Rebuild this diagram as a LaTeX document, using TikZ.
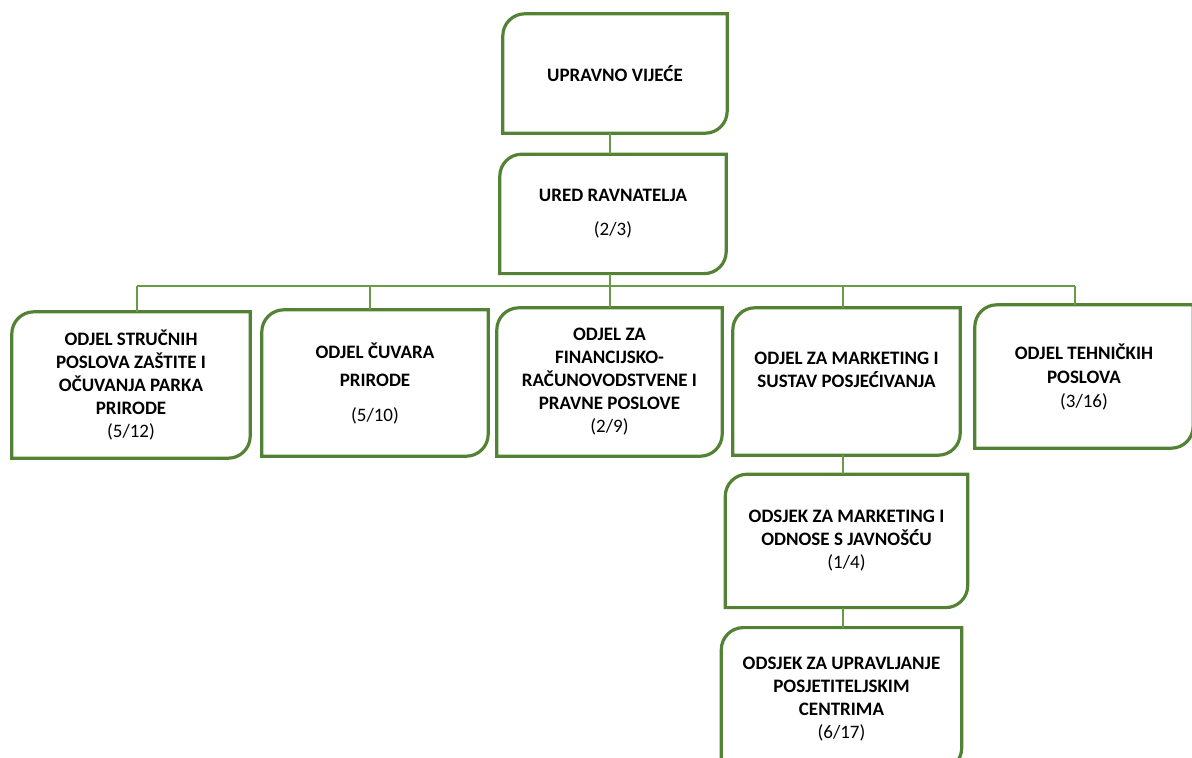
\documentclass[tikz,border=0pt]{standalone}
\usepackage{fontspec}
\setmainfont{Carlito}
\usetikzlibrary{positioning}
\definecolor{frameg}{HTML}{548235}
\definecolor{linkg}{HTML}{6A9A48}
\tikzstyle{unit} = [inner sep=0pt, align=center, text=black, font=\fontsize{19}{23}\selectfont\bfseries]
\tikzstyle{frame} = [draw=frameg, line width=3.2pt]
\tikzstyle{link} = [draw=linkg, line width=1.5pt]
\newcommand{\orgframe}[1]{\path[frame] (#1.north east) -- ([yshift=22pt]#1.south east) arc[start angle=0, end angle=-90, radius=22pt] -- (#1.south west) -- ([yshift=-22pt]#1.north west) arc[start angle=180, end angle=90, radius=22pt] -- cycle;}

\begin{document}
\begin{tikzpicture}[x=1pt, y=1pt]
\useasboundingbox (0,0) rectangle (1192,-758);
\clip (0,0) rectangle (1192,-758);

% top ==============================
\node[unit, minimum width=224pt, minimum height=119pt] (upr) at (615,-73.5) {UPRAVNO VIJEĆE};
\node[unit, minimum width=226pt, minimum height=119pt, below=21pt of upr, xshift=-2pt] (ured) {URED RAVNATELJA\\[11pt]{\mdseries (2/3)}};

% odjeli
\node[unit, minimum width=238pt, minimum height=146pt] (zastita) at (131,-385) {ODJEL STRUČNIH\\POSLOVA ZAŠTITE I\\OČUVANJA PARKA\\PRIRODE\\{\mdseries (5/12)}};
\node[unit, minimum width=226pt, minimum height=146pt] (cuvari) at (375,-383) {ODJEL ČUVARA\\[5pt]PRIRODE\\[12pt]{\mdseries (5/10)}};
\node[unit, minimum width=225pt, minimum height=148pt] (financ) at (609.5,-382) {ODJEL ZA\\FINANCIJSKO-\\RAČUNOVODSTVENE I\\PRAVNE POSLOVE\\{\mdseries (2/9)}};
\node[unit, minimum width=227pt, minimum height=147pt] (mkt) at (846.5,-381.5) {ODJEL ZA MARKETING I\\SUSTAV POSJEĆIVANJA\\~};
\node[unit, minimum width=218pt, minimum height=143pt] (tehn) at (1084,-376.5) {ODJEL TEHNIČKIH\\[1pt]POSLOVA\\[1pt]{\mdseries (3/16)}};

% odsjeci
\node[unit, minimum width=242pt, minimum height=133pt, below=19pt of mkt] (odsj1) {ODSJEK ZA MARKETING I\\ODNOSE S JAVNOŠĆU\\{\mdseries (1/4)}};
\node[unit, minimum width=240pt, minimum height=142pt, below=20pt of odsj1, xshift=-5pt] (odsj2) {ODSJEK ZA UPRAVLJANJE\\POSJETITELJSKIM\\CENTRIMA\\{\mdseries (6/17)}};

% frames
\orgframe{upr}
\orgframe{ured}
\orgframe{zastita}
\orgframe{cuvari}
\orgframe{financ}
\orgframe{mkt}
\orgframe{tehn}
\orgframe{odsj1}
\orgframe{odsj2}

% bus
\coordinate (d1) at (137,-286);
\coordinate (d2) at (370,-286);
\coordinate (d3) at (610,-286);
\coordinate (d4) at (843,-286);
\coordinate (d5) at (1075,-286);

%edges
\path[link] (upr.south -| d3) -- (d3 |- ured.north);
\path[link] (ured.south -| d3) -- (d3);
\path[link] (d1) -- (d5);
\path[link] (d1) -- (d1 |- zastita.north);
\path[link] (d2) -- (d2 |- cuvari.north);
\path[link] (d3) -- (d3 |- financ.north);
\path[link] (d4) -- (d4 |- mkt.north);
\path[link] (d5) -- (d5 |- tehn.north);
\path[link] (mkt.south -| d4) -- (d4 |- odsj1.north);
\path[link] (odsj1.south -| d4) -- (d4 |- odsj2.north);

\end{tikzpicture}
\end{document}
